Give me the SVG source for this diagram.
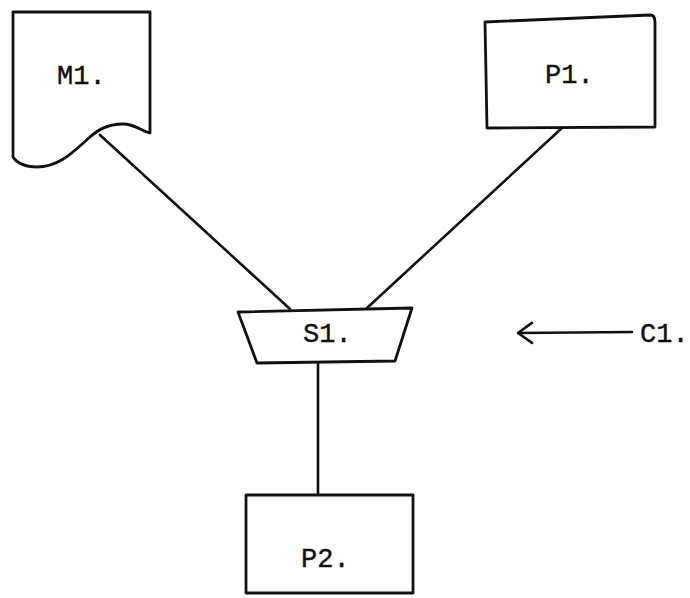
<svg xmlns="http://www.w3.org/2000/svg" width="690" height="598" viewBox="0 0 690 598">
  <style>
    .shape { fill: #ffffff; stroke: #111111; stroke-width: 2.8; stroke-linejoin: round; }
    .wire { fill: none; stroke: #111111; stroke-width: 2.6; stroke-linecap: round; }
    .label { font-family: "Liberation Mono", "Courier New", monospace; font-size: 27px; fill: #111111; stroke: #111111; stroke-width: 0.4; }
  </style>
  <defs>
    <!-- open arrowhead, drawn pointing along +x so orient="auto" follows the line -->
    <marker id="openArrow" viewBox="0 0 20 24" refX="19" refY="12" markerWidth="20" markerHeight="24" markerUnits="userSpaceOnUse" orient="auto">
      <path d="M5,2 L19,12 L5,22" fill="none" stroke="#111111" stroke-width="2.6" stroke-linecap="round" stroke-linejoin="round"/>
    </marker>
  </defs>
  <rect width="690" height="598" fill="#ffffff"/>

  <!-- connectors -->
  <g id="connectors">
    <line class="wire" x1="100" y1="135" x2="290" y2="309"/>
    <line class="wire" x1="563" y1="127" x2="367" y2="308"/>
    <line class="wire" x1="318" y1="362" x2="318" y2="495"/>
    <line class="wire" x1="632" y1="332" x2="518" y2="333" marker-end="url(#openArrow)"/>
  </g>

  <!-- document M1 -->
  <g id="M1">
    <path class="shape" d="M13,12 L150,12 L150,133 C140,131 136,124 123,124 C105,124 96,132 90,137 C75,150 60,167 37,167 C24,167 16,162 13,157 Z"/>
    <text class="label" x="57" y="84">M1.</text>
  </g>

  <!-- process P1 -->
  <g id="P1">
    <path class="shape" d="M485,22 L650,15 Q655,15 655,22 L655,127 L487,128 Z"/>
    <text class="label" x="545" y="83">P1.</text>
  </g>

  <!-- manual operation S1 -->
  <g id="S1">
    <path class="shape" d="M238,312 L412,308 L395,361 L257,363 Z"/>
    <text class="label" x="303" y="342">S1.</text>
  </g>

  <!-- process P2 -->
  <g id="P2">
    <path class="shape" d="M246,495 L413,495 L413,593 L246,593 Z"/>
    <text class="label" x="301" y="567">P2.</text>
  </g>

  <!-- control C1 -->
  <g id="C1">
    <text class="label" x="640" y="342">C1.</text>
  </g>
</svg>
